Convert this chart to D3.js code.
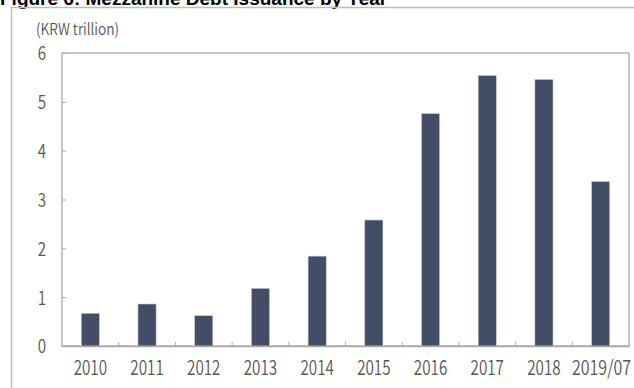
<!DOCTYPE html>
<html><head><meta charset="utf-8">
<script src="https://cdn.jsdelivr.net/npm/d3@7"></script>
<style>body{margin:0;background:#fff}svg{display:block}</style>
</head><body>
<script>
const categories = ["2010","2011","2012","2013","2014","2015","2016","2017","2018","2019/07"];
const values = [0.67, 0.86, 0.62, 1.18, 1.84, 2.58, 4.76, 5.54, 5.46, 3.37];
const yTicks = [0,1,2,3,4,5,6];
const title = "Figure 6: Mezzanine Debt Issuance by Year";
const unitLabel = "(KRW trillion)";

const W = 634, H = 388;
const FONT = "Noto Sans CJK KR, Noto Sans, sans-serif";
const svg = d3.select("body").append("svg").attr("width", W).attr("height", H);
const m = {left: 62, right: 5, top: 53, bottom: 42};
const x = d3.scaleBand().domain(categories).range([m.left, W - m.right]).paddingInner(0.68).paddingOuter(0.34);
const xb = d3.scaleBand().domain(categories).range([m.left, W - m.right]);
const y = d3.scaleLinear().domain([0, 6]).range([H - m.bottom, m.top]);

function condense(sel, k) {
  sel.each(function () {
    const w = this.getComputedTextLength();
    d3.select(this).attr("textLength", w * k).attr("lengthAdjust", "spacingAndGlyphs");
  });
}

// title (cropped at top, as in the reference)
svg.append("text").attr("x", 0).attr("y", 5).attr("font-family", "Liberation Sans, Arial, sans-serif")
  .attr("font-weight", "bold").attr("font-size", 19).attr("fill", "#000").text(title);

// outer frame
svg.append("path").attr("d", `M11.5,${H} V7.5 H${W}`).attr("fill", "none").attr("stroke", "#bdbdbd").attr("stroke-width", 1.5);

// unit label
svg.append("text").attr("x", 36).attr("y", 35).attr("font-family", FONT).attr("font-weight", 350)
  .attr("font-size", 16).attr("fill", "#555").text(unitLabel)
  .attr("textLength", 83).attr("lengthAdjust", "spacingAndGlyphs");

// plot frame
svg.append("rect").attr("x", m.left).attr("y", y(6)).attr("width", W - m.right - m.left).attr("height", y(0) - y(6))
  .attr("fill", "none").attr("stroke", "#a8a8a8").attr("stroke-width", 1.3);

// bars
svg.append("g").selectAll("rect").data(values).join("rect")
  .attr("x", (d, i) => x(categories[i])).attr("width", x.bandwidth())
  .attr("y", d => y(d)).attr("height", d => y(0) - y(d))
  .attr("fill", "#434e66").attr("stroke", "#c9ccd6").attr("stroke-width", 0.6);

// y axis
const yAxis = svg.append("g").attr("transform", `translate(${m.left},0)`)
  .call(d3.axisRight(y).tickValues(yTicks).tickSize(4).tickFormat(d3.format("d")));
yAxis.select(".domain").remove();
yAxis.selectAll(".tick line").attr("stroke", "#a8a8a8");
yAxis.selectAll(".tick text").attr("x", -20).attr("text-anchor", "middle").attr("dy", "0.36em")
  .attr("font-family", FONT).attr("font-weight", 350).attr("font-size", 19).attr("fill", "#555").call(condense, 0.8);

// x axis
const xAxis = svg.append("g").attr("transform", `translate(0,${y(0)})`)
  .call(d3.axisBottom(x).tickSize(0).tickPadding(22));
xAxis.select(".domain").attr("stroke", "#a8a8a8").attr("stroke-width", 1.3);
xAxis.selectAll(".tick text").attr("font-family", FONT).attr("font-weight", 350)
  .attr("font-size", d => d.length > 4 ? 18 : 20).attr("fill", "#555").attr("dy", "0.36em")
  .call(condense, 0.76);
// last label: keep it inside the right edge
xAxis.selectAll(".tick text").filter(d => d === categories[categories.length - 1])
  .attr("text-anchor", "end")
  .attr("x", d => (W - 3) - (x(d) + x.bandwidth() / 2))
  .attr("font-size", 20)
  .attr("textLength", 59);
// boundary ticks (inward)
svg.append("g").selectAll("line").data(categories.slice(1)).join("line")
  .attr("x1", d => xb(d)).attr("x2", d => xb(d)).attr("y1", y(0)).attr("y2", y(0) - 4)
  .attr("stroke", "#a8a8a8");
</script>
</body></html>
